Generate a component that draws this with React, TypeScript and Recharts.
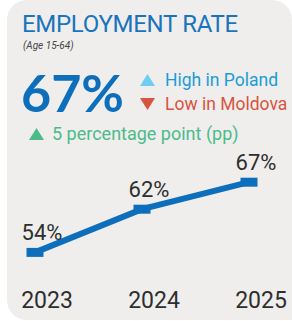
import React from 'react';
import { LineChart, Line, XAxis, YAxis, LabelList } from 'recharts';

const years = ['2023', '2024', '2025'];
const rates = [54, 62, 67];

const data = years.map((year, i) => ({ year, rate: rates[i] }));

const BLUE = '#0d6fbb';
const TEXT = '#2e2e2e';

// square-ish marker like the original
const RectDot = (props: any) => {
  const { cx, cy } = props;
  if (cx == null || cy == null) return null;
  return <rect x={cx - 8.5} y={cy - 4.5} width={17} height={9} fill={BLUE} />;
};

const YearTick = (props: any) => {
  const { x, payload } = props;
  return (
    <text x={x + 12} y={308} textAnchor="middle" fill={TEXT} fontSize={23} fontFamily="Roboto">
      {payload.value}
    </text>
  );
};

const ValueLabel = (props: any) => {
  const { x, y, value } = props;
  return (
    <text x={x + 7} y={y - 12} textAnchor="middle" fill={TEXT} fontSize={22} fontFamily="Roboto">
      {value}%
    </text>
  );
};

const Tri = ({ color, down }: { color: string; down?: boolean }) => (
  <svg width={15} height={12} style={{ display: 'inline-block', verticalAlign: 'baseline' }}>
    <polygon points={down ? '0,0 15,0 7.5,12' : '0,12 15,12 7.5,0'} fill={color} />
  </svg>
);

const App: React.FC = () => {
  return (
    <div style={{ position: 'fixed', left: 0, top: 0, width: 292, height: 321, background: '#fff' }}>
      <div
        style={{
          position: 'absolute',
          left: 7,
          top: 0,
          width: 285,
          height: 320,
          background: '#efeeed',
          borderRadius: '20px 20px 0 20px',
        }}
      />
      <div style={{ position: 'absolute', left: 22, top: 10, fontFamily: 'Roboto', fontSize: 24, letterSpacing: -0.3, color: '#1a74bb', whiteSpace: 'nowrap', lineHeight: '28px' }}>
        EMPLOYMENT RATE
      </div>
      <div style={{ position: 'absolute', left: 23, top: 39, fontFamily: 'Roboto', fontStyle: 'italic', fontSize: 10, color: '#444', lineHeight: '14px' }}>
        (Age 15-64)
      </div>
      <div style={{ position: 'absolute', left: 21, top: 62, fontFamily: 'Lato', fontWeight: 700, fontSize: 52, color: BLUE, lineHeight: '60px' }}>
        67%
      </div>
      <div style={{ position: 'absolute', left: 140, top: 69, fontFamily: 'Roboto', fontSize: 17.5, lineHeight: '22px', whiteSpace: 'nowrap' }}>
        <Tri color="#6ecdf2" />
        <span style={{ color: '#1a9cd8', marginLeft: 10 }}>High in Poland</span>
      </div>
      <div style={{ position: 'absolute', left: 140, top: 93, fontFamily: 'Roboto', fontSize: 17.5, lineHeight: '22px', whiteSpace: 'nowrap' }}>
        <Tri color="#d8543e" down />
        <span style={{ color: '#d8543e', marginLeft: 10 }}>Low in Moldova</span>
      </div>
      <div style={{ position: 'absolute', left: 29, top: 122, fontFamily: 'Roboto', fontSize: 18, lineHeight: '24px', whiteSpace: 'nowrap', color: '#4bbb8a' }}>
        <Tri color="#4bbb8a" />
        <span style={{ marginLeft: 8 }}>5 percentage point (pp)</span>
      </div>
      <div style={{ position: 'absolute', left: 0, top: 0 }}>
        <LineChart width={292} height={321} data={data} margin={{ top: 166, right: 43, bottom: 17, left: 35 }}>
          <XAxis dataKey="year" axisLine={false} tickLine={false} tick={<YearTick />} height={30} interval={0} />
          <YAxis hide domain={[50, 70]} />
          <Line
            dataKey="rate"
            stroke={BLUE}
            strokeWidth={6}
            dot={<RectDot />}
            activeDot={false}
            isAnimationActive={false}
          >
            <LabelList dataKey="rate" content={<ValueLabel />} />
          </Line>
        </LineChart>
      </div>
    </div>
  );
};

export default App;
